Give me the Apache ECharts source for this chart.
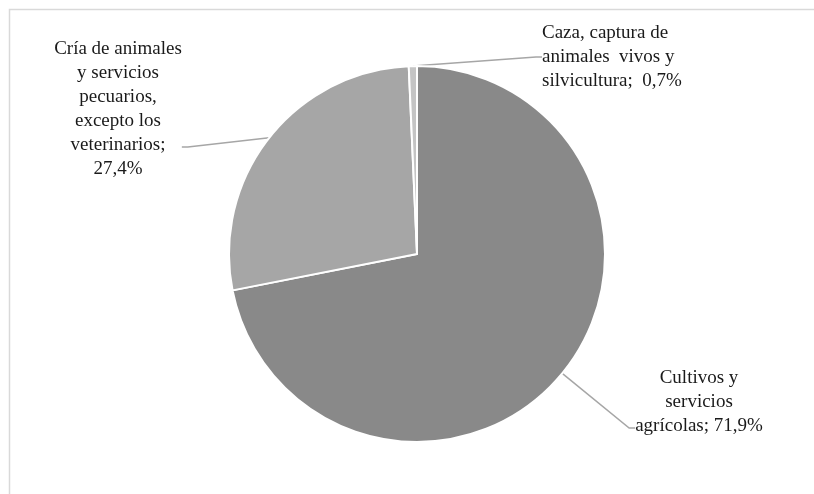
<!DOCTYPE html>
<html>
<head>
<meta charset="utf-8">
<script src="https://cdn.jsdelivr.net/npm/echarts@6/dist/echarts.min.js"></script>
<style>
  html, body { margin: 0; padding: 0; background: #fff; }
  #pie { width: 814px; height: 494px; }
</style>
</head>
<body>
<div id="pie"></div>
<script>
// categorias (con saltos de linea como en la etiqueta original)
var categories = [
  'Cultivos y\nservicios\nagrícolas',
  'Cría de animales\ny servicios\npecuarios,\nexcepto los\nveterinarios',
  'Caza, captura de\nanimales  vivos y\nsilvicultura'
]
var values = [71.9, 27.4, 0.7]
// separador entre nombre y porcentaje
var separators = ['; ', ';\n', ';  ']
var colors = ['#898989', '#a6a6a6', '#c4c4c4']

var myChart = echarts.init(document.getElementById('pie'))

// posiciones de las etiquetas; el padding mueve el punto donde llega la linea guia
var labelPos = [
  { x: 699, y: 366, align: 'center', verticalAlign: 'top' },
  { x: 118, y: 37, align: 'center', verticalAlign: 'top' },
  { x: 542, y: 57, align: 'left', verticalAlign: 'middle' }
]
var labelPadding = [
  [0, 0, 52, 0],
  [0, 0, 76, 0],
  0
]

var option = {
  backgroundColor: '#fff',
  animation: false,
  graphic: [
    {
      type: 'rect',
      shape: { x: 9.5, y: 9.5, width: 900, height: 600 },
      style: { fill: 'none', stroke: '#d9d9d9', lineWidth: 1.5 },
      silent: true
    }
  ],
  series: [
    {
      type: 'pie',
      center: [417, 254],
      radius: 188,
      startAngle: 90,
      clockwise: true,
      data: categories.map(function (name, i) {
        return {
          name: name,
          value: values[i],
          itemStyle: { color: colors[i] },
          label: { padding: labelPadding[i] }
        }
      }),
      itemStyle: { borderColor: '#fff', borderWidth: 2 },
      label: {
        show: true,
        position: 'outside',
        fontFamily: 'Liberation Serif, Times New Roman, serif',
        fontSize: 19,
        lineHeight: 24,
        color: '#1a1a1a',
        align: 'center',
        formatter: function (p) {
          return p.name + separators[p.dataIndex] + p.value.toFixed(1).replace('.', ',') + '%'
        }
      },
      labelLine: {
        show: true,
        length: 10,
        length2: 6,
        lineStyle: { color: '#a6a6a6', width: 1.5 }
      },
      labelLayout: function (params) {
        return labelPos[params.dataIndex]
      }
    }
  ]
}
myChart.setOption(option)
window.onresize = function () {
  myChart.resize()
}
</script>
</body>
</html>
